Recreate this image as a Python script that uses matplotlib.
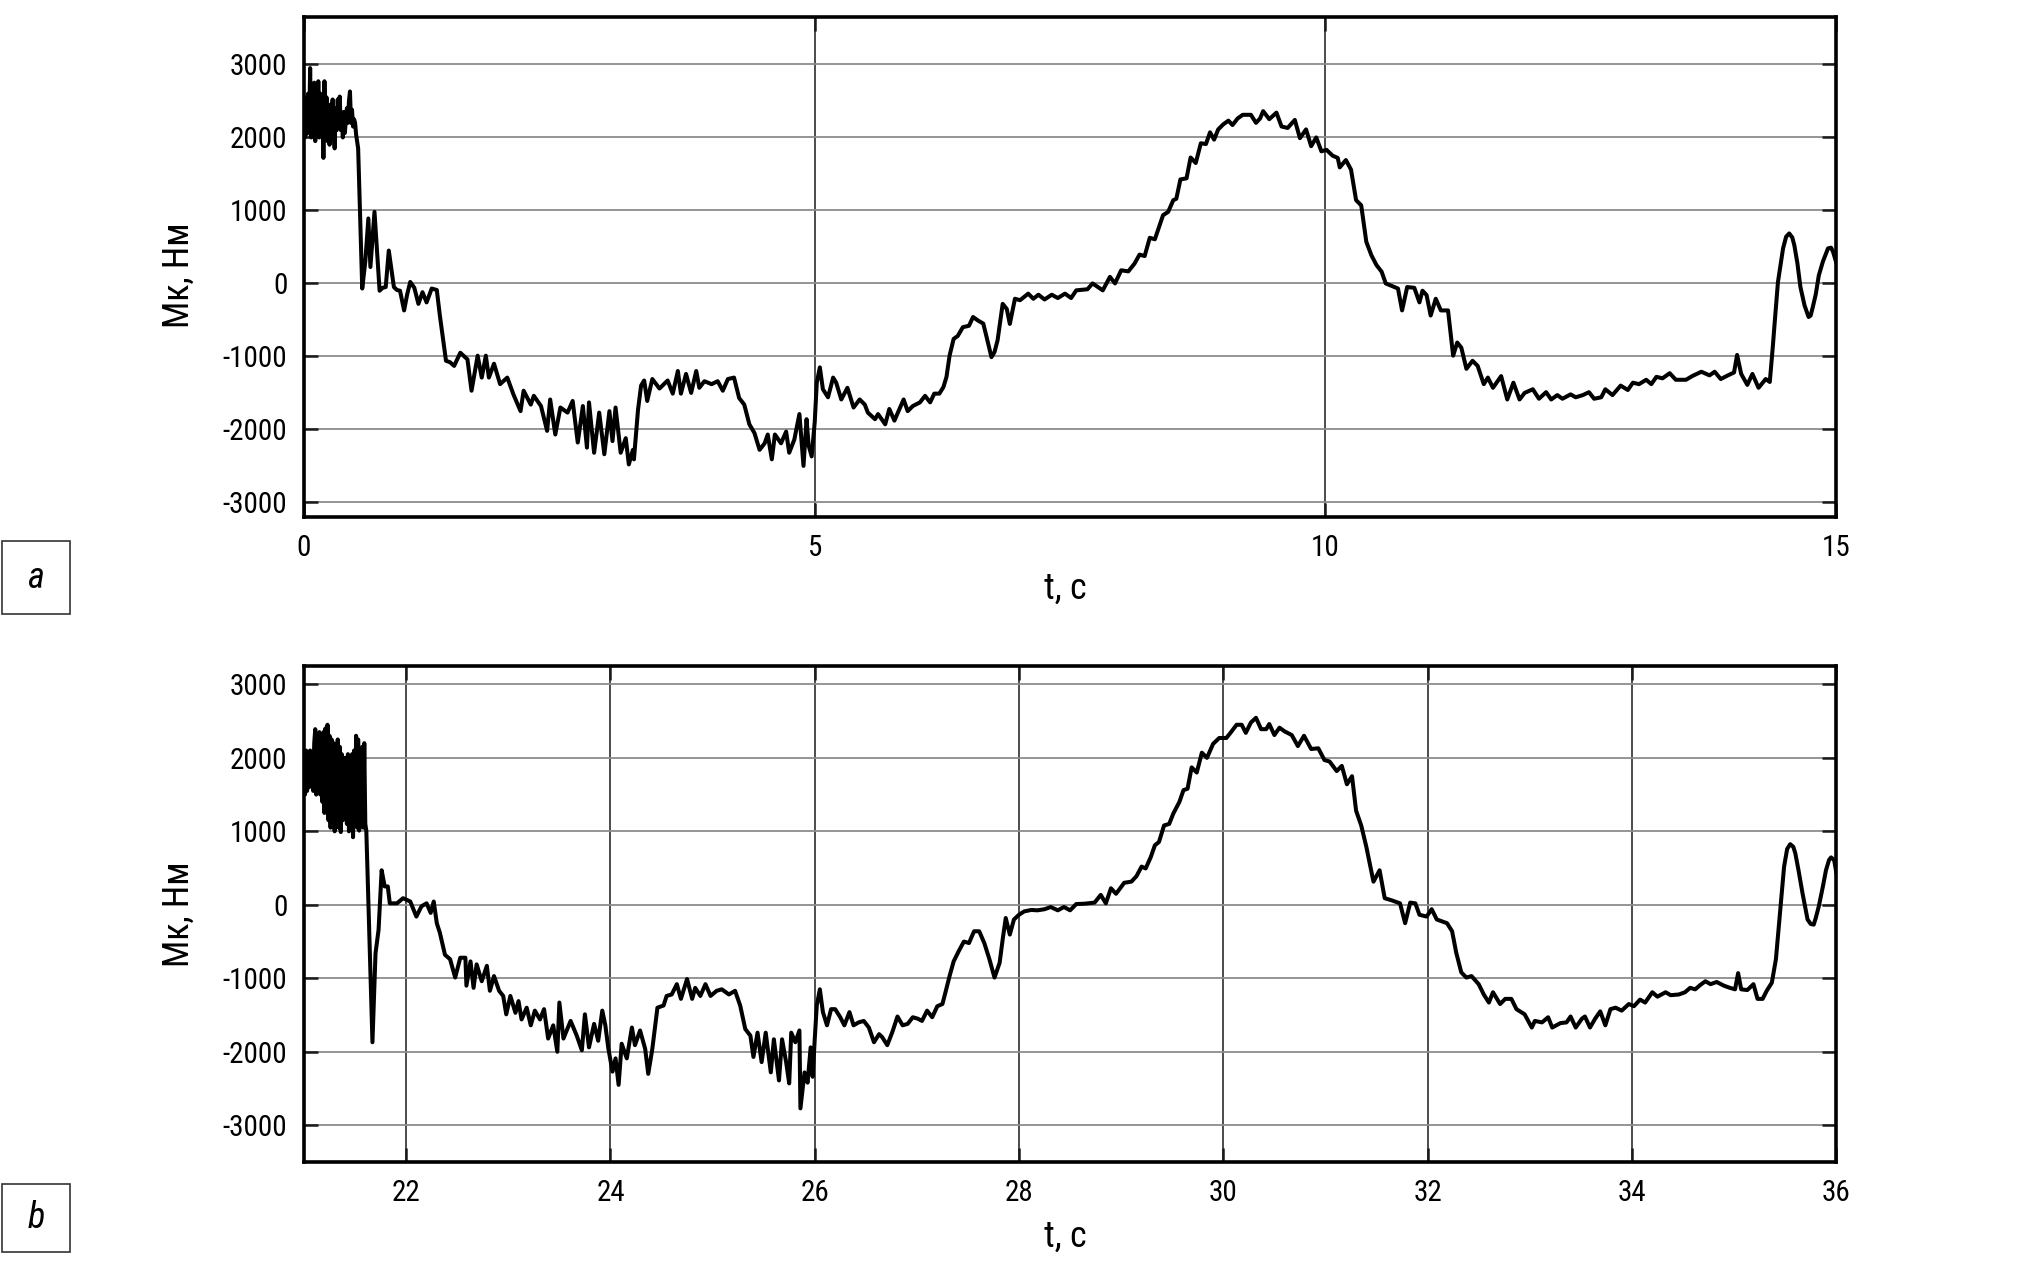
import matplotlib
matplotlib.use("Agg")
import matplotlib.pyplot as plt
from matplotlib import font_manager
from matplotlib.patches import Rectangle

# -- font: narrow sans if we have one --
names = {f.name for f in font_manager.fontManager.ttflist}
font_name = next((n for n in ["Roboto Condensed", "Liberation Sans Narrow"] if n in names), "DejaVu Sans")
plt.rcParams["font.family"] = [font_name, "DejaVu Sans"]
plt.rcParams["font.stretch"] = "condensed"

# -- data: run a (0..15 s) --
t_a = [0.00, 0.01, 0.02, 0.03, 0.04, 0.05, 0.06, 0.07, 0.08, 0.09, 0.10, 0.11, 0.12, 0.13, 0.14,
       0.15, 0.16, 0.17, 0.18, 0.19, 0.20, 0.21, 0.22, 0.23, 0.24, 0.25, 0.26, 0.27, 0.28, 0.29,
       0.30, 0.31, 0.32, 0.33, 0.34, 0.35, 0.36, 0.37, 0.38, 0.39, 0.40, 0.41, 0.42, 0.43, 0.44,
       0.45, 0.46, 0.47, 0.48, 0.49, 0.50, 0.51, 0.53, 0.57, 0.60, 0.63, 0.65, 0.69, 0.74, 0.77,
       0.80, 0.83, 0.88, 0.91, 0.94, 0.98, 1.01, 1.04, 1.08, 1.12, 1.16, 1.20, 1.25, 1.30, 1.33,
       1.39, 1.43, 1.47, 1.53, 1.60, 1.64, 1.70, 1.74, 1.78, 1.81, 1.86, 1.92, 1.99, 2.05, 2.12,
       2.15, 2.22, 2.25, 2.32, 2.38, 2.41, 2.46, 2.51, 2.58, 2.63, 2.68, 2.73, 2.77, 2.79, 2.84,
       2.89, 2.94, 2.99, 3.02, 3.05, 3.10, 3.15, 3.18, 3.22, 3.23, 3.27, 3.30, 3.33, 3.36, 3.41,
       3.48, 3.56, 3.61, 3.66, 3.69, 3.74, 3.79, 3.84, 3.87, 3.92, 3.99, 4.05, 4.10, 4.15, 4.21,
       4.26, 4.31, 4.36, 4.41, 4.46, 4.51, 4.54, 4.58, 4.61, 4.67, 4.72, 4.75, 4.80, 4.85, 4.89,
       4.92, 4.94, 4.97, 5.00, 5.02, 5.05, 5.08, 5.13, 5.18, 5.21, 5.26, 5.32, 5.38, 5.44, 5.49,
       5.52, 5.59, 5.62, 5.69, 5.73, 5.78, 5.87, 5.91, 5.96, 6.03, 6.08, 6.13, 6.17, 6.22, 6.26,
       6.29, 6.32, 6.36, 6.40, 6.45, 6.51, 6.55, 6.60, 6.65, 6.68, 6.73, 6.76, 6.79, 6.84, 6.88,
       6.91, 6.96, 7.01, 7.09, 7.14, 7.19, 7.25, 7.32, 7.38, 7.45, 7.51, 7.56, 7.67, 7.72, 7.82,
       7.89, 7.94, 8.00, 8.07, 8.13, 8.18, 8.23, 8.28, 8.33, 8.36, 8.41, 8.46, 8.51, 8.54, 8.58,
       8.64, 8.68, 8.73, 8.78, 8.83, 8.87, 8.91, 8.95, 9.00, 9.05, 9.09, 9.14, 9.19, 9.27, 9.32,
       9.36, 9.39, 9.45, 9.52, 9.57, 9.63, 9.70, 9.75, 9.81, 9.86, 9.91, 9.96, 10.01, 10.07, 10.12,
       10.14, 10.20, 10.25, 10.30, 10.35, 10.40, 10.45, 10.50, 10.55, 10.59, 10.71, 10.75, 10.80, 10.87, 10.92,
       10.95, 10.99, 11.03, 11.08, 11.13, 11.20, 11.25, 11.29, 11.33, 11.38, 11.44, 11.49, 11.55, 11.59, 11.64,
       11.72, 11.78, 11.84, 11.90, 11.95, 12.03, 12.09, 12.16, 12.21, 12.27, 12.32, 12.40, 12.45, 12.52, 12.58,
       12.63, 12.70, 12.74, 12.81, 12.89, 12.96, 13.01, 13.07, 13.14, 13.19, 13.24, 13.30, 13.37, 13.43, 13.53,
       13.59, 13.68, 13.76, 13.81, 13.87, 13.94, 14.00, 14.03, 14.07, 14.13, 14.18, 14.24, 14.31, 14.35, 14.38,
       14.40, 14.43, 14.48, 14.51, 14.54, 14.57, 14.59, 14.62, 14.65, 14.69, 14.73, 14.75, 14.77, 14.80, 14.83,
       14.87, 14.92, 14.95, 14.97, 15.00]
m_a = [2300, 2000, 2550, 2050, 2600, 2100, 2950, 2000, 2700, 2100, 2750, 1950, 2500, 2050, 2770,
       2000, 2600, 2100, 2500, 1720, 2770, 2050, 2550, 1950, 2400, 1900, 2450, 2000, 2520, 2100,
       1850, 2400, 2100, 2520, 2200, 2560, 2100, 2300, 2000, 2350, 2060, 2250, 2400, 2200, 2500,
       2630, 2200, 2380, 2150, 2250, 2200, 2040, 1850, -70, 300, 890, 225, 980, -100, -60,
       -50, 450, -50, -90, -100, -370, -150, 20, -60, -280, -120, -260, -70, -90, -440,
       -1060, -1080, -1130, -950, -1040, -1470, -990, -1290, -990, -1290, -1100, -1380, -1290, -1520, -1750,
       -1470, -1660, -1540, -1680, -2020, -1590, -2070, -1700, -1770, -1610, -2180, -1680, -2250, -1630, -2320,
       -1770, -2340, -1750, -2160, -1700, -2320, -2120, -2480, -2280, -2410, -1730, -1400, -1330, -1610, -1310,
       -1440, -1330, -1510, -1200, -1510, -1240, -1500, -1200, -1430, -1340, -1380, -1340, -1470, -1310, -1290,
       -1570, -1660, -1930, -2050, -2280, -2190, -2070, -2410, -2070, -2190, -2030, -2320, -2140, -1790, -2500,
       -1860, -2220, -2370, -1900, -1360, -1150, -1450, -1560, -1290, -1360, -1590, -1430, -1700, -1590, -1660,
       -1770, -1860, -1790, -1930, -1720, -1880, -1590, -1750, -1680, -1630, -1540, -1630, -1510, -1510, -1420,
       -1280, -990, -760, -720, -600, -580, -460, -510, -550, -720, -1010, -940, -780, -280, -350,
       -555, -210, -230, -140, -210, -155, -220, -155, -200, -140, -200, -95, -80, 0, -95,
       90, 0, 180, 165, 270, 395, 375, 625, 605, 730, 935, 980, 1140, 1160, 1425,
       1440, 1725, 1650, 1920, 1910, 2070, 1970, 2110, 2180, 2230, 2170, 2260, 2310, 2310, 2200,
       2260, 2360, 2250, 2340, 2150, 2130, 2240, 1990, 2110, 1880, 2000, 1810, 1830, 1750, 1720,
       1590, 1690, 1560, 1140, 1070, 570, 385, 250, 160, 0, -70, -370, -50, -60, -260,
       -100, -160, -440, -210, -370, -370, -990, -810, -880, -1170, -1060, -1130, -1380, -1290, -1430,
       -1270, -1590, -1360, -1590, -1500, -1450, -1580, -1490, -1590, -1530, -1580, -1520, -1560, -1530, -1490,
       -1580, -1560, -1450, -1530, -1400, -1460, -1360, -1380, -1320, -1380, -1280, -1300, -1230, -1320, -1320,
       -1270, -1210, -1260, -1210, -1310, -1260, -1220, -980, -1240, -1390, -1240, -1430, -1310, -1350, -860,
       -500, 20, 480, 640, 685, 630, 525, 280, -50, -300, -460, -440, -330, -150, 110,
       300, 480, 490, 430, 290]

# -- data: run b (21..36 s) --
t_b = [21.00, 21.01, 21.02, 21.03, 21.04, 21.05, 21.06, 21.07, 21.08, 21.09, 21.10, 21.11, 21.12, 21.13, 21.14,
       21.15, 21.16, 21.17, 21.18, 21.19, 21.20, 21.21, 21.22, 21.23, 21.24, 21.25, 21.26, 21.27, 21.28, 21.29,
       21.30, 21.31, 21.32, 21.33, 21.34, 21.35, 21.36, 21.37, 21.38, 21.39, 21.40, 21.41, 21.42, 21.43, 21.44,
       21.45, 21.46, 21.47, 21.48, 21.49, 21.50, 21.51, 21.52, 21.53, 21.54, 21.55, 21.56, 21.57, 21.58, 21.59,
       21.60, 21.61, 21.65, 21.67, 21.70, 21.73, 21.76, 21.79, 21.82, 21.84, 21.91, 21.97, 22.04, 22.10, 22.15,
       22.20, 22.24, 22.27, 22.30, 22.33, 22.38, 22.43, 22.48, 22.53, 22.58, 22.59, 22.63, 22.66, 22.69, 22.74,
       22.79, 22.82, 22.86, 22.91, 22.95, 22.98, 23.02, 23.07, 23.10, 23.13, 23.18, 23.22, 23.26, 23.31, 23.35,
       23.39, 23.44, 23.48, 23.50, 23.54, 23.61, 23.67, 23.72, 23.75, 23.79, 23.84, 23.88, 23.92, 23.95, 23.98,
       24.02, 24.05, 24.08, 24.11, 24.16, 24.21, 24.24, 24.29, 24.34, 24.37, 24.41, 24.46, 24.52, 24.55, 24.60,
       24.65, 24.69, 24.75, 24.80, 24.83, 24.88, 24.93, 24.98, 25.04, 25.09, 25.16, 25.22, 25.27, 25.32, 25.37,
       25.40, 25.44, 25.48, 25.52, 25.57, 25.60, 25.65, 25.68, 25.72, 25.75, 25.77, 25.81, 25.85, 25.86, 25.90,
       25.93, 25.96, 25.98, 26.00, 26.02, 26.05, 26.08, 26.12, 26.16, 26.20, 26.25, 26.29, 26.34, 26.38, 26.43,
       26.48, 26.53, 26.58, 26.63, 26.66, 26.71, 26.76, 26.81, 26.86, 26.91, 26.96, 27.01, 27.05, 27.10, 27.15,
       27.20, 27.25, 27.28, 27.32, 27.36, 27.41, 27.46, 27.51, 27.56, 27.61, 27.66, 27.71, 27.76, 27.81, 27.84,
       27.87, 27.91, 27.95, 28.00, 28.05, 28.12, 28.18, 28.25, 28.31, 28.38, 28.44, 28.50, 28.56, 28.64, 28.74,
       28.80, 28.85, 28.90, 28.95, 29.03, 29.10, 29.15, 29.20, 29.24, 29.29, 29.33, 29.37, 29.42, 29.47, 29.51,
       29.57, 29.61, 29.65, 29.69, 29.74, 29.79, 29.84, 29.90, 29.96, 30.03, 30.07, 30.13, 30.18, 30.22, 30.27,
       30.32, 30.37, 30.42, 30.45, 30.50, 30.55, 30.60, 30.67, 30.73, 30.79, 30.86, 30.93, 30.99, 31.04, 31.11,
       31.16, 31.21, 31.26, 31.30, 31.35, 31.40, 31.47, 31.53, 31.58, 31.65, 31.73, 31.78, 31.83, 31.88, 31.92,
       31.99, 32.04, 32.09, 32.14, 32.19, 32.24, 32.28, 32.33, 32.38, 32.43, 32.50, 32.55, 32.60, 32.64, 32.71,
       32.76, 32.82, 32.87, 32.95, 33.02, 33.05, 33.12, 33.18, 33.22, 33.30, 33.36, 33.40, 33.45, 33.51, 33.54,
       33.59, 33.64, 33.69, 33.74, 33.79, 33.84, 33.90, 33.97, 34.02, 34.08, 34.13, 34.20, 34.25, 34.33, 34.38,
       34.46, 34.52, 34.57, 34.62, 34.67, 34.72, 34.77, 34.83, 34.90, 34.96, 35.01, 35.04, 35.07, 35.13, 35.19,
       35.23, 35.28, 35.32, 35.37, 35.41, 35.45, 35.49, 35.52, 35.55, 35.58, 35.60, 35.63, 35.67, 35.70, 35.72,
       35.75, 35.78, 35.80, 35.83, 35.87, 35.90, 35.93, 35.95, 35.98, 36.00]
m_b = [1750, 1500, 2100, 1550, 2050, 1600, 2100, 1650, 2000, 1550, 2200, 2390, 1500, 2300, 1600,
       2350, 1500, 2300, 1400, 2350, 1250, 2400, 1300, 2450, 1150, 2300, 1050, 2250, 1100, 2200,
       1000, 2150, 1100, 2250, 1050, 2150, 990, 2050, 1150, 2000, 1200, 2000, 1100, 2050, 1000,
       2000, 1150, 2050, 920, 2100, 1100, 2300, 1050, 2250, 1010, 2100, 1100, 2150, 1050, 2200,
       1100, 1010, -880, -1870, -660, -340, 470, 250, 250, 20, 20, 90, 45, -160, -20,
       20, -110, 45, -250, -380, -680, -740, -990, -720, -720, -1100, -770, -1130, -810, -1040,
       -830, -1170, -970, -1170, -1240, -1490, -1240, -1470, -1310, -1560, -1400, -1640, -1440, -1560, -1420,
       -1820, -1640, -2000, -1330, -1820, -1580, -1780, -1980, -1490, -1940, -1620, -1850, -1440, -1640, -1960,
       -2270, -2090, -2450, -1890, -2090, -1670, -1910, -1710, -1960, -2300, -1960, -1400, -1370, -1240, -1220,
       -1080, -1280, -1010, -1280, -1130, -1240, -1080, -1240, -1170, -1150, -1220, -1170, -1370, -1690, -1780,
       -2070, -1740, -2140, -1740, -2280, -1830, -2390, -1830, -2140, -2430, -1740, -1870, -1710, -2770, -2280,
       -2420, -1940, -2340, -1830, -1370, -1150, -1460, -1640, -1420, -1420, -1530, -1640, -1460, -1640, -1600,
       -1580, -1670, -1870, -1760, -1800, -1910, -1730, -1520, -1640, -1620, -1530, -1550, -1580, -1440, -1530,
       -1380, -1350, -1190, -970, -770, -630, -500, -520, -360, -360, -520, -740, -990, -790, -470,
       -180, -405, -200, -135, -90, -70, -75, -60, -30, -75, -30, -75, 10, 15, 30,
       135, 20, 225, 150, 300, 315, 390, 520, 495, 650, 810, 855, 1080, 1100, 1240,
       1400, 1560, 1580, 1870, 1800, 2070, 2000, 2190, 2270, 2270, 2340, 2450, 2450, 2340, 2480,
       2545, 2390, 2390, 2460, 2310, 2410, 2360, 2310, 2160, 2300, 2120, 2130, 1970, 1950, 1820,
       1890, 1640, 1750, 1280, 1080, 790, 315, 470, 90, 60, 20, -250, 30, 20, -135,
       -160, -60, -200, -225, -250, -360, -650, -920, -990, -970, -1080, -1220, -1330, -1190, -1350,
       -1280, -1280, -1420, -1490, -1670, -1580, -1600, -1530, -1670, -1610, -1600, -1520, -1670, -1550, -1520,
       -1670, -1550, -1450, -1640, -1420, -1400, -1440, -1350, -1380, -1290, -1330, -1190, -1250, -1190, -1230,
       -1220, -1190, -1130, -1150, -1090, -1040, -1080, -1050, -1100, -1130, -1150, -930, -1150, -1160, -1080,
       -1280, -1280, -1170, -1060, -740, -110, 520, 760, 825, 790, 700, 480, 160, -60, -200,
       -260, -270, -180, -20, 250, 470, 610, 645, 610, 450]

yticks = [-3000, -2000, -1000, 0, 1000, 2000, 3000]
xticks_a = [0, 5, 10, 15]
xticks_b = [22, 24, 26, 28, 30, 32, 34, 36]

fig = plt.figure(figsize=(20.2, 12.69), dpi=100)
ax_a = fig.add_axes([0.1505, 0.5926, 0.7585, 0.394])
ax_b = fig.add_axes([0.1505, 0.0843, 0.7585, 0.3909])

panels = [
    (ax_a, t_a, m_a, (0, 15), (-3200, 3650), xticks_a, "a", 0.5161, 0.0576, 0.484, -0.144),
    (ax_b, t_b, m_b, (21, 36), (-3500, 3250), xticks_b, "b", 0.0134, 0.0536, 0.5, -0.151),
]

for ax, t, m, xl, yl, xt, letter, box_y, box_h, ylab_y, xlab_y in panels:
    ax.plot(t, m, color="black", lw=2.9, solid_joinstyle="round")
    ax.set_xlim(*xl)
    ax.set_ylim(*yl)
    ax.set_xticks(xt)
    ax.set_yticks(yticks)
    ax.set_xticklabels([str(v) for v in xt])
    ax.set_yticklabels([str(v) for v in yticks])
    # grid: light horizontal, darker vertical
    ax.grid(axis="y", color="#8c8c8c", lw=1.3)
    ax.grid(axis="x", color="#2e2e2e", lw=1.2)
    ax.set_axisbelow(True)
    ax.tick_params(direction="in", top=True, right=True, length=10, width=1.8,
                   color="#1a1a1a", labelsize=21, pad=12)
    for s in ax.spines.values():
        s.set_linewidth(2.6)
    ax.set_ylabel("Мк, Нм", fontsize=26, va="center")
    ax.yaxis.set_label_coords(-0.082, ylab_y)
    ax.set_xlabel("t, c", fontsize=26, va="center")
    ax.xaxis.set_label_coords(0.497, xlab_y)

    # panel letter in a box at the left edge
    fig.patches.append(Rectangle((0.0008, box_y), 0.0338, box_h, transform=fig.transFigure,
                                 fill=False, edgecolor="#333333", lw=1.2))
    fig.text(0.0177, box_y + box_h / 2, letter, fontsize=26, style="italic",
             ha="center", va="center")

fig.savefig("out.png", dpi=100, facecolor="white")
